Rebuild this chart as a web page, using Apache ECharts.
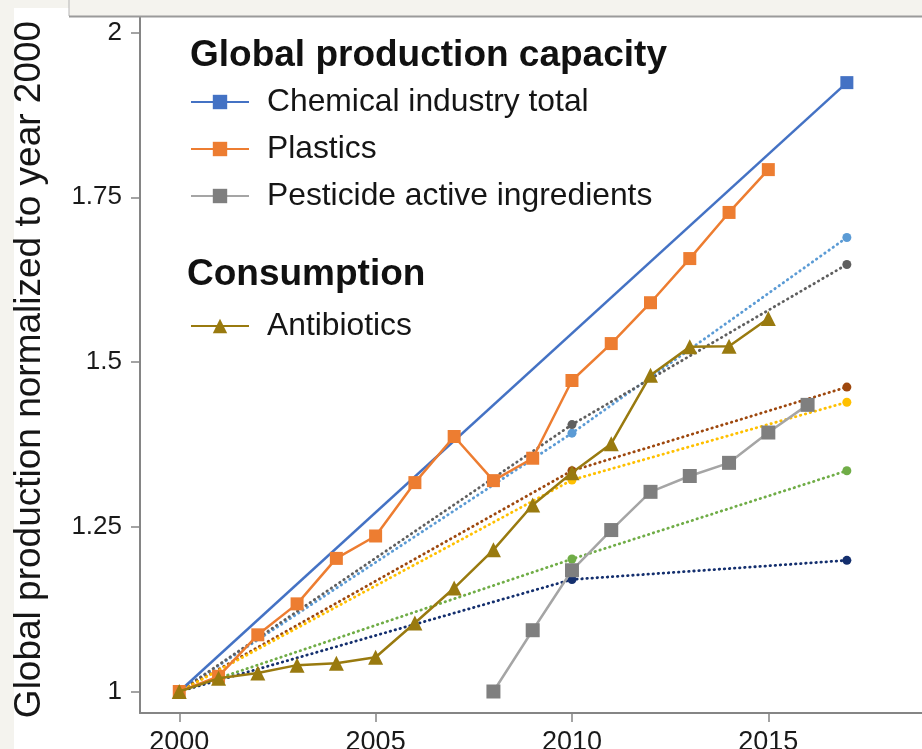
<!DOCTYPE html>
<html><head><meta charset="utf-8">
<script src="https://cdn.jsdelivr.net/npm/echarts@6/dist/echarts.min.js"></script>
<style>html,body{margin:0;padding:0;background:#f4f3ee;overflow:hidden}#c{width:922px;height:749px}</style>
</head><body><div id="c"></div>
<script>
const FONT = '"Liberation Sans", Arial, Helvetica, sans-serif';

// ---- data ----
const yearsMain = [2000,2001,2002,2003,2004,2005,2006,2007,2008,2009,2010,2011,2012,2013,2014,2015];
const plastics = [1,1.023,1.086,1.133,1.202,1.236,1.317,1.387,1.320,1.354,1.472,1.528,1.590,1.657,1.727,1.792];
const antibiotics = [1,1.020,1.028,1.040,1.043,1.052,1.104,1.157,1.215,1.283,1.332,1.376,1.480,1.523,1.524,1.566];
const pesticideYears = [2008,2009,2010,2011,2012,2013,2014,2015,2016];
const pesticide = [1.0,1.093,1.184,1.245,1.303,1.327,1.347,1.393,1.435];
const chemicalYears = [2000,2017];
const chemical = [1,1.924];
const trendYears = [2000,2010,2017];
const trendLightBlue = [1,1.392,1.689];
const trendDarkGrey = [1,1.405,1.648];
const trendBrown = [1,1.335,1.462];
const trendYellow = [1,1.321,1.439];
const trendGreen = [1,1.201,1.335];
const trendNavy = [1,1.170,1.199];
const xTicks = [2000,2005,2010,2015];
const yTicks = [1,1.25,1.5,1.75,2];
const yTitle = 'Global production normalized to year 2000';
const head1 = 'Global production capacity';
const head2 = 'Consumption';
const names = ['Chemical industry total','Plastics','Pesticide active ingredients','Antibiotics'];

function pts(xs, ys){ return xs.map((x,i)=>[x, ys[i]]); }
function trend(name, color, ys){
  return {
    name, type:'line', z:1,
    data: trendYears.map((x,i)=>({value:[x, ys[i]], symbol: i===0 ? 'none' : 'circle'})),
    symbolSize: 9, showSymbol: true,
    itemStyle:{color},
    lineStyle:{color, width:2.8, type:[0.5,4.6], cap:'round'},
    emphasis:{disabled:true}, silent:true
  };
}

const chart = echarts.init(document.getElementById('c'), null, {renderer:'canvas'});
chart.setOption({
  animation:false,
  backgroundColor:'transparent',
  textStyle:{fontFamily:FONT},
  graphic:[
    {type:'rect', z:-10, silent:true, shape:{x:14,y:8,width:55,height:741}, style:{fill:'#ffffff'}},
    {type:'rect', z:-10, silent:true, shape:{x:69,y:16,width:853,height:733}, style:{fill:'#ffffff'}},
    {type:'line', z:10, silent:true, shape:{x1:69,y1:0,x2:69,y2:16}, style:{stroke:'#b5b5b5', lineWidth:1}},
    {type:'line', z:10, silent:true, shape:{x1:69,y1:16.5,x2:922,y2:16.5}, style:{stroke:'#9a9a9a', lineWidth:2}},
    {type:'text', z:10, silent:true, x:29.5, y:369.5, rotation:Math.PI/2,
      style:{text:yTitle, x:0, y:0, align:'center', verticalAlign:'middle', font:'37px '+FONT, fill:'#161616'}}
  ],
  title:[
    {text:head1, left:190, top:37, padding:0, textStyle:{fontFamily:FONT, fontSize:37, fontWeight:'bold', color:'#111', lineHeight:37}},
    {text:head2, left:187, top:256, padding:0, textStyle:{fontFamily:FONT, fontSize:37, fontWeight:'bold', color:'#111', lineHeight:37}}
  ],
  legend:[
    {data:names.slice(0,3), orient:'vertical', left:190, top:86, padding:0, itemGap:15,
      itemWidth:58, itemHeight:18, selectedMode:false,
      textStyle:{fontFamily:FONT, fontSize:31.8, lineHeight:32, color:'#151515', padding:[0,0,0,13]}},
    {data:names.slice(3), orient:'vertical', left:190, top:310, padding:0,
      itemWidth:58, itemHeight:18, selectedMode:false,
      textStyle:{fontFamily:FONT, fontSize:31.8, lineHeight:32, color:'#151515', padding:[0,0,0,13]}}
  ],
  grid:{left:140, top:17, width:785.4, height:696, containLabel:false, outerBoundsMode:'none', show:false},
  xAxis:{
    type:'value', min:1999, max:2019,
    axisLine:{show:true, onZero:false, lineStyle:{color:'#858585', width:2}},
    axisTick:{show:true, length:9, customValues:xTicks, lineStyle:{color:'#858585', width:1.5}},
    axisLabel:{customValues:xTicks, margin:16, fontSize:27, color:'#1a1a1a', fontFamily:FONT, formatter:v=>String(v)},
    splitLine:{show:false}
  },
  yAxis:{
    type:'value', min:0.96737, max:2.0236,
    axisLine:{show:true, onZero:false, lineStyle:{color:'#858585', width:2}},
    axisTick:{show:true, length:9, customValues:yTicks, lineStyle:{color:'#858585', width:1.5}},
    axisLabel:{customValues:yTicks, margin:18, fontSize:26, color:'#1a1a1a', fontFamily:FONT},
    splitLine:{show:false}
  },
  series:[
    trend('trend-lightblue','#5b9bd5',trendLightBlue),
    trend('trend-darkgrey','#5f5f5f',trendDarkGrey),
    trend('trend-brown','#9e480e',trendBrown),
    trend('trend-yellow','#ffc000',trendYellow),
    trend('trend-green','#70ad47',trendGreen),
    trend('trend-navy','#142f6e',trendNavy),
    {name:names[2], type:'line', z:3, data:pts(pesticideYears, pesticide), symbol:'rect', symbolSize:14,
      itemStyle:{color:'#7f7f7f'}, lineStyle:{color:'#a5a5a5', width:2.5}},
    {name:names[0], type:'line', z:3,
      data:chemicalYears.map((x,i)=>({value:[x, chemical[i]], symbol: i===0 ? 'none' : 'rect'})),
      symbol:'rect', symbolSize:13, itemStyle:{color:'#4472c4'}, lineStyle:{color:'#4472c4', width:2.5}},
    {name:names[1], type:'line', z:3, data:pts(yearsMain, plastics), symbol:'rect', symbolSize:13,
      itemStyle:{color:'#ed7d31'}, lineStyle:{color:'#ed7d31', width:2.5}},
    {name:names[3], type:'line', z:4, data:pts(yearsMain, antibiotics), symbol:'triangle', symbolSize:15,
      itemStyle:{color:'#997a0f'}, lineStyle:{color:'#997a0f', width:2.5}}
  ]
});
</script></body></html>
